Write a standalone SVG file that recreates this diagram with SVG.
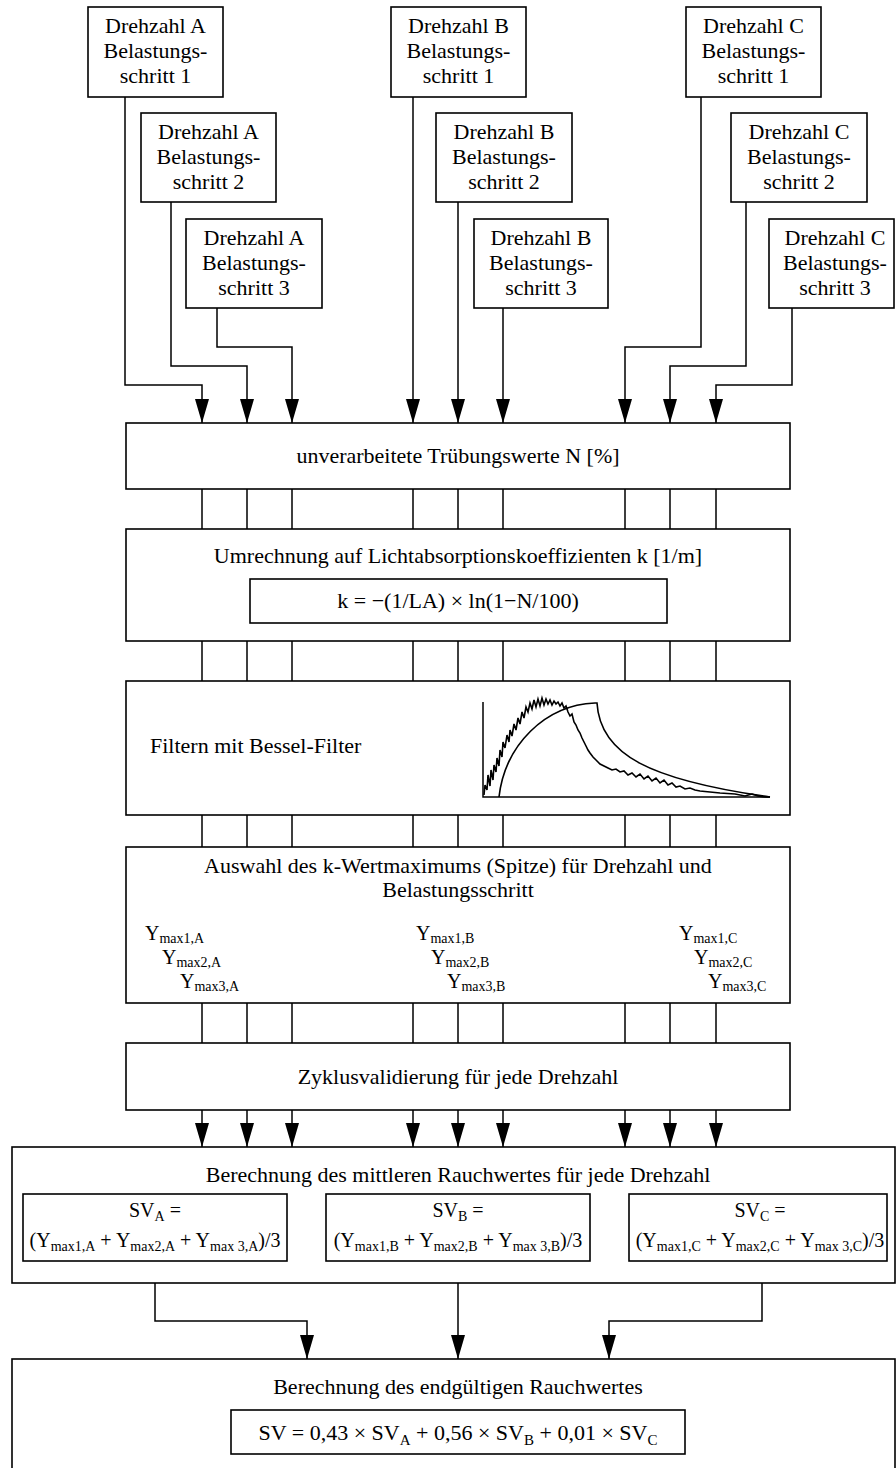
<svg xmlns="http://www.w3.org/2000/svg" width="896" height="1468" viewBox="0 0 896 1468">
<style>
.box{fill:#fff;stroke:#000;stroke-width:1.6}
.ln{fill:none;stroke:#000;stroke-width:1.5}
.arr{fill:none;stroke:#000;stroke-width:1.5;marker-end:url(#ah)}
text{font-family:"Liberation Serif","Times New Roman",serif;font-size:22px;fill:#000}
.c{text-anchor:middle}
.f{font-size:20px}
.y{font-size:20px}
.sub{font-size:15px}
.sub2{font-size:14px}
.curve{fill:none;stroke:#000;stroke-width:1.6}
</style>
<defs>
<marker id="ah" markerUnits="userSpaceOnUse" viewBox="0 -7 24 14" refX="24" refY="0" markerWidth="24" markerHeight="14" orient="auto">
<path d="M0,-7 L24,0 L0,7 z" fill="#000"/>
</marker>
</defs>

<g id="connectors">
<polyline class="arr" points="125,97 125,385 202,385 202,423"/>
<polyline class="arr" points="171,202 171,366 247,366 247,423"/>
<polyline class="arr" points="217,308 217,347 292,347 292,423"/>
<polyline class="arr" points="413,97 413,423"/>
<polyline class="arr" points="458,202 458,423"/>
<polyline class="arr" points="503,308 503,423"/>
<polyline class="arr" points="701,97 701,347 625,347 625,423"/>
<polyline class="arr" points="746,202 746,366 670,366 670,423"/>
<polyline class="arr" points="792,308 792,385 716,385 716,423"/>
<path class="ln" d="M202,489V529M247,489V529M292,489V529M413,489V529M458,489V529M503,489V529M625,489V529M670,489V529M716,489V529"/>
<path class="ln" d="M202,641V681M247,641V681M292,641V681M413,641V681M458,641V681M503,641V681M625,641V681M670,641V681M716,641V681"/>
<path class="ln" d="M202,815V847M247,815V847M292,815V847M413,815V847M458,815V847M503,815V847M625,815V847M670,815V847M716,815V847"/>
<path class="ln" d="M202,1003V1043M247,1003V1043M292,1003V1043M413,1003V1043M458,1003V1043M503,1003V1043M625,1003V1043M670,1003V1043M716,1003V1043"/>
<line class="arr" x1="202" y1="1110" x2="202" y2="1147"/>
<line class="arr" x1="247" y1="1110" x2="247" y2="1147"/>
<line class="arr" x1="292" y1="1110" x2="292" y2="1147"/>
<line class="arr" x1="413" y1="1110" x2="413" y2="1147"/>
<line class="arr" x1="458" y1="1110" x2="458" y2="1147"/>
<line class="arr" x1="503" y1="1110" x2="503" y2="1147"/>
<line class="arr" x1="625" y1="1110" x2="625" y2="1147"/>
<line class="arr" x1="670" y1="1110" x2="670" y2="1147"/>
<line class="arr" x1="716" y1="1110" x2="716" y2="1147"/>
<polyline class="arr" points="155,1283 155,1321 307,1321 307,1359"/>
<polyline class="arr" points="458,1283 458,1359"/>
<polyline class="arr" points="762,1283 762,1321 609,1321 609,1359"/>
</g>

<g id="input-A1"><rect class="box" x="88" y="7" width="135" height="90"/>
<text class="c" x="155.5" y="33">Drehzahl A</text><text class="c" x="155.5" y="58">Belastungs-</text><text class="c" x="155.5" y="83">schritt 1</text></g>
<g id="input-A2"><rect class="box" x="141" y="113" width="135" height="89"/>
<text class="c" x="208.5" y="139">Drehzahl A</text><text class="c" x="208.5" y="164">Belastungs-</text><text class="c" x="208.5" y="189">schritt 2</text></g>
<g id="input-A3"><rect class="box" x="186" y="219" width="136" height="89"/>
<text class="c" x="254" y="245">Drehzahl A</text><text class="c" x="254" y="270">Belastungs-</text><text class="c" x="254" y="295">schritt 3</text></g>

<g id="input-B1"><rect class="box" x="391" y="7" width="135" height="90"/>
<text class="c" x="458.5" y="33">Drehzahl B</text><text class="c" x="458.5" y="58">Belastungs-</text><text class="c" x="458.5" y="83">schritt 1</text></g>
<g id="input-B2"><rect class="box" x="436" y="113" width="136" height="89"/>
<text class="c" x="504" y="139">Drehzahl B</text><text class="c" x="504" y="164">Belastungs-</text><text class="c" x="504" y="189">schritt 2</text></g>
<g id="input-B3"><rect class="box" x="474" y="219" width="134" height="89"/>
<text class="c" x="541" y="245">Drehzahl B</text><text class="c" x="541" y="270">Belastungs-</text><text class="c" x="541" y="295">schritt 3</text></g>

<g id="input-C1"><rect class="box" x="686" y="7" width="135" height="90"/>
<text class="c" x="753.5" y="33">Drehzahl C</text><text class="c" x="753.5" y="58">Belastungs-</text><text class="c" x="753.5" y="83">schritt 1</text></g>
<g id="input-C2"><rect class="box" x="731" y="113" width="136" height="89"/>
<text class="c" x="799" y="139">Drehzahl C</text><text class="c" x="799" y="164">Belastungs-</text><text class="c" x="799" y="189">schritt 2</text></g>
<g id="input-C3"><rect class="box" x="769" y="219" width="125" height="89"/>
<text class="c" x="835" y="245">Drehzahl C</text><text class="c" x="835" y="270">Belastungs-</text><text class="c" x="835" y="295">schritt 3</text></g>

<g id="raw-values"><rect class="box" x="126" y="423" width="664" height="66"/>
<text class="c" x="458" y="463">unverarbeitete Trübungswerte N [%]</text></g>

<g id="conversion"><rect class="box" x="126" y="529" width="664" height="112"/>
<text class="c" x="458" y="563">Umrechnung auf Lichtabsorptionskoeffizienten k [1/m]</text>
<rect class="box" x="250" y="579" width="417" height="44"/>
<text class="c" x="458" y="608">k = −(1/LA) × ln(1−N/100)</text></g>

<g id="filter"><rect class="box" x="126" y="681" width="664" height="134"/>
<text x="150" y="753">Filtern mit Bessel-Filter</text>
<path class="ln" d="M483,702V797H770"/>
<path class="curve" d="M499,797 C505,745 545,705 595,703 L597,703 C600,755 650,780 770,797"/>
<polyline class="curve" points="484,795 485,785 487,790 488,775 490,786 491,770 493,780 494,765 496,772 497,758 499,766 500,750 502,757 503,742 505,748 507,735 509,742 510,730 512,736 514,724 516,730 518,718 520,724 522,712 524,718 526,707 528,712 530,703 532,709 534,700 536,707 538,699 540,706 542,698 544,705 546,699 548,704 550,700 552,705 554,701 556,704 558,702 560,706 562,703 564,708 566,706 568,712 570,716 572,714 574,722 576,725 578,730 580,733 582,738 584,742 586,746 588,750 590,753 593,757 596,760 600,764 604,766 608,768 612,770 616,769 620,772 624,771 628,775 632,773 636,777 640,774 644,779 648,776 652,781 656,778 660,783 664,780 668,785 672,783 676,787 680,786 685,789 690,788 695,790 700,791 710,792 720,793 735,794 745,796 752,794 758,796 765,797 770,797"/>
</g>

<g id="peak-selection"><rect class="box" x="126" y="847" width="664" height="156"/>
<text class="c" x="458" y="873">Auswahl des k-Wertmaximums (Spitze) für Drehzahl und</text>
<text class="c" x="458" y="897">Belastungsschritt</text>
<text class="y" x="145" y="940">Y<tspan class="sub2" dy="3">max1,A</tspan></text>
<text class="y" x="162" y="964">Y<tspan class="sub2" dy="3">max2,A</tspan></text>
<text class="y" x="180" y="988">Y<tspan class="sub2" dy="3">max3,A</tspan></text>
<text class="y" x="416" y="940">Y<tspan class="sub2" dy="3">max1,B</tspan></text>
<text class="y" x="431" y="964">Y<tspan class="sub2" dy="3">max2,B</tspan></text>
<text class="y" x="447" y="988">Y<tspan class="sub2" dy="3">max3,B</tspan></text>
<text class="y" x="679" y="940">Y<tspan class="sub2" dy="3">max1,C</tspan></text>
<text class="y" x="694" y="964">Y<tspan class="sub2" dy="3">max2,C</tspan></text>
<text class="y" x="708" y="988">Y<tspan class="sub2" dy="3">max3,C</tspan></text>
</g>

<g id="cycle-validation"><rect class="box" x="126" y="1043" width="664" height="67"/>
<text class="c" x="458" y="1084">Zyklusvalidierung für jede Drehzahl</text></g>

<g id="mean-smoke"><rect class="box" x="12" y="1147" width="883" height="136"/>
<text class="c" x="458" y="1182">Berechnung des mittleren Rauchwertes für jede Drehzahl</text>
<rect class="box" x="23" y="1194" width="264" height="67"/>
<text class="c f" x="155" y="1217">SV<tspan class="sub2" dy="4">A</tspan><tspan dy="-4"> =</tspan></text>
<text class="c f" x="155" y="1247">(Y<tspan class="sub2" dy="4">max1,A</tspan><tspan dy="-4"> + Y</tspan><tspan class="sub2" dy="4">max2,A</tspan><tspan dy="-4"> + Y</tspan><tspan class="sub2" dy="4">max 3,A</tspan><tspan dy="-4">)/3</tspan></text>
<rect class="box" x="326" y="1194" width="264" height="67"/>
<text class="c f" x="458" y="1217">SV<tspan class="sub2" dy="4">B</tspan><tspan dy="-4"> =</tspan></text>
<text class="c f" x="458" y="1247">(Y<tspan class="sub2" dy="4">max1,B</tspan><tspan dy="-4"> + Y</tspan><tspan class="sub2" dy="4">max2,B</tspan><tspan dy="-4"> + Y</tspan><tspan class="sub2" dy="4">max 3,B</tspan><tspan dy="-4">)/3</tspan></text>
<rect class="box" x="629" y="1194" width="258" height="67"/>
<text class="c f" x="760" y="1217">SV<tspan class="sub2" dy="4">C</tspan><tspan dy="-4"> =</tspan></text>
<text class="c f" x="760" y="1247">(Y<tspan class="sub2" dy="4">max1,C</tspan><tspan dy="-4"> + Y</tspan><tspan class="sub2" dy="4">max2,C</tspan><tspan dy="-4"> + Y</tspan><tspan class="sub2" dy="4">max 3,C</tspan><tspan dy="-4">)/3</tspan></text>
</g>

<g id="final-smoke"><rect class="box" x="12" y="1359" width="883" height="120"/>
<text class="c" x="458" y="1394">Berechnung des endgültigen Rauchwertes</text>
<rect class="box" x="231" y="1410" width="454" height="44"/>
<text class="c" x="458" y="1440">SV = 0,43 × SV<tspan class="sub" dy="5">A</tspan><tspan dy="-5"> + 0,56 × SV</tspan><tspan class="sub" dy="5">B</tspan><tspan dy="-5"> + 0,01 × SV</tspan><tspan class="sub" dy="5">C</tspan></text>
</g>
</svg>
